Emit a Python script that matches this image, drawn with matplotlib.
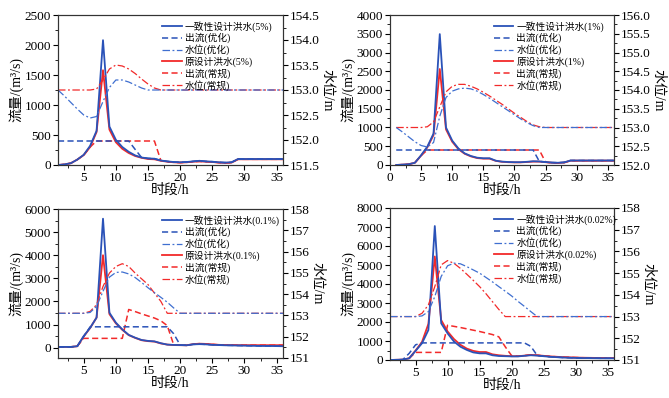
import matplotlib
matplotlib.use("Agg")
import matplotlib.pyplot as plt
from matplotlib.ticker import MultipleLocator, FormatStrFormatter

plt.rcParams['font.family'] = ['Liberation Serif', 'Noto Sans CJK SC']
plt.rcParams['axes.unicode_minus'] = False

hours = list(range(1, 37))

# ---------------- 5% ----------------
inflow_opt_5 = [0, 10, 30, 90, 170, 320, 570, 2080, 640, 420, 300, 220, 160, 125, 110, 105, 75, 60,
                50, 45, 50, 60, 70, 60, 55, 45, 40, 45, 100, 100, 100, 100, 100, 100, 100, 100]
inflow_orig_5 = [0, 10, 30, 90, 165, 300, 550, 1580, 590, 380, 270, 200, 150, 120, 100, 95, 70, 55,
                 45, 40, 45, 55, 60, 55, 50, 40, 35, 40, 95, 95, 95, 95, 95, 95, 95, 95]
out_opt_5 = [400, 400, 400, 400, 400, 400, 400, 400, 400, 400, 400, 400, 260, 125, 110, 105, 75, 60,
             50, 45, 50, 60, 70, 60, 55, 45, 40, 45, 100, 100, 100, 100, 100, 100, 100, 100]
out_orig_5 = [0, 10, 30, 90, 165, 300, 400, 400, 400, 400, 400, 400, 400, 400, 400, 400, 75, 55,
              45, 40, 45, 55, 60, 55, 50, 40, 35, 40, 95, 95, 95, 95, 95, 95, 95, 95]
level_opt_5 = [153.0, 152.88, 152.75, 152.62, 152.5, 152.44, 152.47, 152.77, 153.05, 153.2, 153.2, 153.16,
               153.1, 153.04, 153.0, 153.0, 153.0, 153.0, 153.0, 153.0, 153.0, 153.0, 153.0, 153.0,
               153.0, 153.0, 153.0, 153.0, 153.0, 153.0, 153.0, 153.0, 153.0, 153.0, 153.0, 153.0]
level_orig_5 = [153.0, 153.0, 153.0, 153.0, 153.0, 153.0, 153.02, 153.2, 153.42, 153.5, 153.48, 153.42,
                153.33, 153.22, 153.12, 153.04, 153.0, 153.0, 153.0, 153.0, 153.0, 153.0, 153.0, 153.0,
                153.0, 153.0, 153.0, 153.0, 153.0, 153.0, 153.0, 153.0, 153.0, 153.0, 153.0, 153.0]

# ---------------- 1% ----------------
inflow_opt_1 = [0, 10, 20, 60, 260, 490, 840, 3490, 1000, 650, 440, 310, 240, 195, 180, 180, 115, 90,
                80, 75, 75, 85, 100, 95, 80, 65, 60, 70, 120, 120, 120, 120, 120, 120, 120, 120]
inflow_orig_1 = [0, 10, 20, 60, 250, 470, 800, 2560, 950, 620, 420, 300, 230, 185, 170, 170, 110, 85,
                 75, 70, 70, 80, 90, 90, 75, 60, 55, 65, 115, 115, 115, 115, 115, 115, 115, 115]
out_opt_1 = [400, 400, 400, 400, 400, 400, 400, 400, 400, 400, 400, 400, 400, 400, 400, 400, 400, 400,
             400, 400, 400, 400, 400, 95, 80, 65, 60, 70, 120, 120, 120, 120, 120, 120, 120, 120]
out_orig_1 = [0, 10, 20, 60, 250, 400, 400, 400, 400, 400, 400, 400, 400, 400, 400, 400, 400, 400,
              400, 400, 400, 400, 400, 400, 75, 60, 55, 65, 115, 115, 115, 115, 115, 115, 115, 115]
level_opt_1 = [153.0, 152.88, 152.75, 152.62, 152.52, 152.48, 152.6, 153.3, 153.8, 153.97, 154.03, 154.05,
               154.03, 153.97, 153.88, 153.78, 153.67, 153.56, 153.45, 153.34, 153.23, 153.13, 153.05, 153.0,
               153.0, 153.0, 153.0, 153.0, 153.0, 153.0, 153.0, 153.0, 153.0, 153.0, 153.0, 153.0]
level_orig_1 = [153.0, 153.0, 153.0, 153.0, 153.0, 153.02, 153.15, 153.55, 153.95, 154.1, 154.15, 154.15,
                154.1, 154.03, 153.94, 153.84, 153.73, 153.62, 153.5, 153.38, 153.27, 153.16, 153.07, 153.02,
                153.0, 153.0, 153.0, 153.0, 153.0, 153.0, 153.0, 153.0, 153.0, 153.0, 153.0, 153.0]

# ---------------- 0.1% ----------------
inflow_opt_01 = [30, 30, 30, 60, 500, 860, 1300, 5580, 1510, 1080, 790, 550, 430, 330, 290, 270, 190, 130,
                 115, 110, 100, 140, 150, 140, 120, 110, 100, 95, 90, 85, 80, 75, 70, 70, 65, 60]
inflow_orig_01 = [30, 30, 30, 60, 480, 850, 1300, 4000, 1450, 1050, 770, 540, 420, 320, 280, 260, 180, 130,
                  110, 105, 100, 150, 170, 160, 140, 120, 110, 110, 105, 105, 105, 105, 105, 105, 105, 105]
out_opt_01 = [30, 30, 30, 60, 480, 900, 900, 900, 900, 900, 900, 900, 900, 900, 900, 900, 900, 900,
              600, 110, 100, 140, 150, 140, 120, 110, 100, 95, 90, 85, 80, 75, 70, 70, 65, 60]
out_orig_01 = [30, 30, 30, 60, 400, 400, 400, 400, 400, 400, 400, 1650, 1560, 1460, 1370, 1280, 1160, 950,
               120, 105, 100, 150, 170, 160, 140, 120, 110, 110, 105, 105, 105, 105, 105, 105, 105, 105]
level_opt_01 = [153.1, 153.1, 153.1, 153.1, 153.1, 153.14, 153.43, 154.13, 154.8, 155.02, 155.04, 154.95,
                154.78, 154.55, 154.3, 154.07, 153.85, 153.62, 153.35, 153.1, 153.1, 153.1, 153.1, 153.1,
                153.1, 153.1, 153.1, 153.1, 153.1, 153.1, 153.1, 153.1, 153.1, 153.1, 153.1, 153.1]
level_orig_01 = [153.1, 153.1, 153.1, 153.1, 153.1, 153.19, 153.5, 154.36, 154.99, 155.3, 155.43, 155.3,
                 154.99, 154.72, 154.45, 154.05, 153.66, 153.1, 153.1, 153.1, 153.1, 153.1, 153.1, 153.1,
                 153.1, 153.1, 153.1, 153.1, 153.1, 153.1, 153.1, 153.1, 153.1, 153.1, 153.1, 153.1]

# ---------------- 0.02% ----------------
inflow_opt_002 = [0, 10, 20, 90, 480, 880, 1580, 7050, 1930, 1400, 970, 700, 530, 400, 350, 350, 250, 210,
                  200, 190, 190, 220, 250, 230, 200, 170, 150, 130, 120, 110, 100, 100, 95, 90, 90, 90]
inflow_orig_002 = [0, 10, 20, 90, 500, 950, 1900, 5450, 2100, 1500, 1100, 800, 600, 480, 420, 420, 300, 250,
                   220, 200, 200, 230, 270, 250, 220, 190, 170, 150, 140, 130, 120, 115, 110, 105, 100, 100]
out_opt_002 = [0, 10, 20, 350, 800, 900, 900, 900, 900, 900, 900, 900, 900, 900, 900, 900, 900, 900,
               900, 900, 900, 900, 720, 240, 200, 170, 150, 130, 120, 110, 100, 100, 95, 90, 90, 90]
out_orig_002 = [0, 10, 20, 90, 400, 400, 400, 400, 400, 1830, 1770, 1710, 1640, 1570, 1500, 1420, 1340, 1220,
                700, 230, 200, 230, 270, 250, 220, 190, 170, 150, 140, 130, 120, 115, 110, 105, 100, 100]
level_opt_002 = [153.0, 153.0, 153.0, 153.0, 153.0, 153.03, 153.23, 153.92, 154.85, 155.34, 155.46, 155.43,
                 155.3, 155.15, 155.0, 154.8, 154.6, 154.38, 154.17, 153.95, 153.7, 153.47, 153.23, 153.0,
                 153.0, 153.0, 153.0, 153.0, 153.0, 153.0, 153.0, 153.0, 153.0, 153.0, 153.0, 153.0]
level_orig_002 = [153.0, 153.0, 153.0, 153.0, 153.0, 153.15, 153.54, 154.38, 155.38, 155.58, 155.45, 155.22,
                  154.95, 154.67, 154.38, 154.05, 153.69, 153.33, 153.0, 153.0, 153.0, 153.0, 153.0, 153.0,
                  153.0, 153.0, 153.0, 153.0, 153.0, 153.0, 153.0, 153.0, 153.0, 153.0, 153.0, 153.0]

panels = [
    dict(freq="5%", data=(inflow_opt_5, out_opt_5, level_opt_5, inflow_orig_5, out_orig_5, level_orig_5),
         rect=(58, 15, 283, 165), xlim=(1, 36), ylim=(0, 2500), ymaj=500, ymin=250,
         y2lim=(151.5, 154.5), y2maj=0.5, y2min=0.25, y2fmt="%.1f", xticks=[5, 10, 15, 20, 25, 30, 35]),
    dict(freq="1%", data=(inflow_opt_1, out_opt_1, level_opt_1, inflow_orig_1, out_orig_1, level_orig_1),
         rect=(390, 15, 614, 165), xlim=(0, 36), ylim=(0, 4000), ymaj=500, ymin=250,
         y2lim=(152.0, 156.0), y2maj=0.5, y2min=0.25, y2fmt="%.1f", xticks=[0, 5, 10, 15, 20, 25, 30, 35]),
    dict(freq="0.1%", data=(inflow_opt_01, out_opt_01, level_opt_01, inflow_orig_01, out_orig_01, level_orig_01),
         rect=(58, 209, 283, 358), xlim=(1, 36), ylim=(-450, 6000), ymaj=1000, ymin=500,
         y2lim=(151, 158), y2maj=1, y2min=0.5, y2fmt="%d", xticks=[5, 10, 15, 20, 25, 30, 35]),
    dict(freq="0.02%", data=(inflow_opt_002, out_opt_002, level_opt_002, inflow_orig_002, out_orig_002, level_orig_002),
         rect=(390, 208, 614, 360), xlim=(1, 36), ylim=(0, 8000), ymaj=1000, ymin=500,
         y2lim=(151, 158), y2maj=1, y2min=0.5, y2fmt="%d", xticks=[5, 10, 15, 20, 25, 30, 35]),
]

W, H = 669, 398
fig = plt.figure(figsize=(W / 100, H / 100), dpi=100)

BLUE = "#2a52b8"
BLUE_L = "#3f6fd0"
RED = "#f22a2a"
dash = (0, (4, 2.2))
dashdot = (0, (6, 2, 1.5, 2))

for p in panels:
    l, t, r, b = p["rect"]
    ax = fig.add_axes([l / W, 1 - b / H, (r - l) / W, (b - t) / H])
    ax2 = ax.twinx()
    qi_o, qo_o, z_o, qi_r, qo_r, z_r = p["data"]

    h4, = ax.plot(hours, qi_r, color=RED, lw=1.3, zorder=3)
    h5, = ax.plot(hours, qo_r, color=RED, lw=1.1, ls=dash, zorder=3)
    h1, = ax.plot(hours, qi_o, color=BLUE, lw=1.3, zorder=4)
    h2, = ax.plot(hours, qo_o, color=BLUE, lw=1.1, ls=dash, zorder=4)
    h6, = ax2.plot(hours, z_r, color=RED, lw=0.9, ls=dashdot)
    h3, = ax2.plot(hours, z_o, color=BLUE_L, lw=0.9, ls=dashdot)

    ax.set_xlim(*p["xlim"])
    ax.set_xticks(p["xticks"])
    ax.xaxis.set_minor_locator(MultipleLocator(2.5))
    ax.yaxis.set_major_locator(MultipleLocator(p["ymaj"]))
    ax.yaxis.set_minor_locator(MultipleLocator(p["ymin"]))
    if p["ylim"][0] < 0:
        ax.set_yticks(list(range(0, int(p["ylim"][1]) + 1, p["ymaj"])))
    ax.set_ylim(*p["ylim"])
    ax2.set_ylim(*p["y2lim"])
    ax2.yaxis.set_major_locator(MultipleLocator(p["y2maj"]))
    ax2.yaxis.set_minor_locator(MultipleLocator(p["y2min"]))
    ax2.yaxis.set_major_formatter(FormatStrFormatter(p["y2fmt"]))

    for a in (ax, ax2):
        a.tick_params(which="major", direction="out", length=3.5, width=0.8, labelsize=9.5, pad=1.5)
        a.tick_params(which="minor", direction="out", length=2, width=0.6)
        for s in a.spines.values():
            s.set_linewidth(0.8)
            s.set_color("#333333")

    ax.set_xlabel("时段/h", fontsize=10, labelpad=0)
    ax.set_ylabel("流量/(m³/s)", fontsize=10, labelpad=1)
    ax2.set_ylabel("水位/m", fontsize=10, rotation=270, labelpad=10)

    handles = [h1, h2, h3, h4, h5, h6]
    labels = [f"一致性设计洪水({p['freq']})", "出流(优化)", "水位(优化)",
              f"原设计洪水({p['freq']})", "出流(常规)", "水位(常规)"]
    ax2.legend(handles, labels, loc="upper left", bbox_to_anchor=(0.455, 0.975), frameon=False,
               fontsize=7, handlelength=2.0, handletextpad=0.3, labelspacing=0.13, borderpad=0.2,
               borderaxespad=0.0)

fig.savefig("out.png", dpi=100)
